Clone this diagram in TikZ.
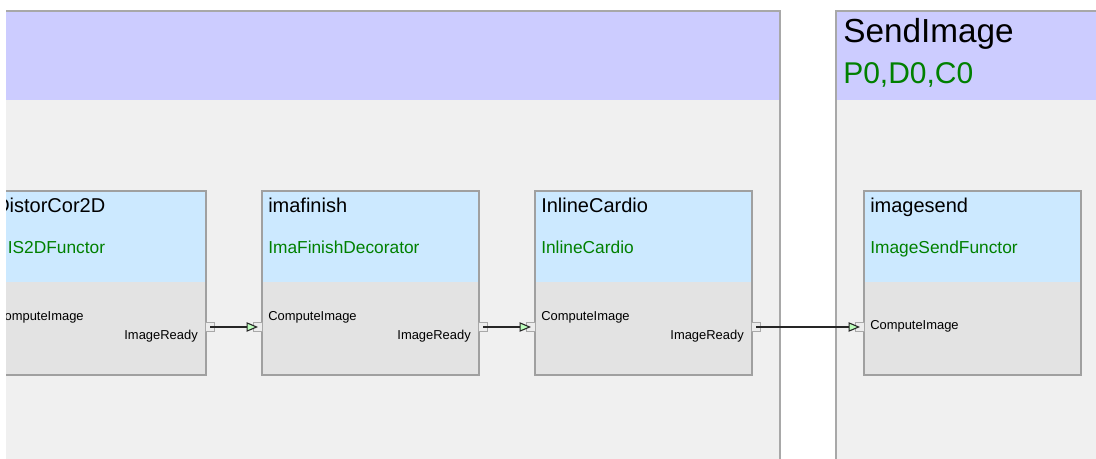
\documentclass[tikz,border=0pt]{standalone}
\usepackage{fontspec}
\setmainfont{Liberation Sans}
\usetikzlibrary{arrows.meta}
\definecolor{grphead}{HTML}{CCCCFF}
\definecolor{grpbody}{HTML}{F0F0F0}
\definecolor{grpline}{HTML}{A8A8A8}
\definecolor{boxhead}{HTML}{CCE9FF}
\definecolor{boxbody}{HTML}{E3E3E3}
\definecolor{boxline}{HTML}{A0A0A0}
\definecolor{txtgreen}{HTML}{008000}
\definecolor{arrowfill}{HTML}{BDFFBD}
\definecolor{portline}{HTML}{A8A8A8}
\definecolor{portfill}{HTML}{ECECEC}
\tikzset{
  grpframe/.style={draw=grpline, line width=1.2pt},
  boxframe/.style={draw=boxline, line width=0.8pt},
  titletext/.style={inner sep=0pt, anchor=base west, font=\fontsize{15}{18}\selectfont},
  subtext/.style={inner sep=0pt, anchor=base west, text=txtgreen, font=\fontsize{13}{15}\selectfont},
  porttext/.style={inner sep=0pt, font=\fontsize{9.7}{11}\selectfont},
  grptitle/.style={inner sep=0pt, anchor=base west, font=\fontsize{25}{29}\selectfont},
  grpsub/.style={inner sep=0pt, anchor=base west, text=txtgreen, font=\fontsize{22.5}{27}\selectfont},
  port/.style={rectangle, draw=portline, fill=portfill, line width=0.6pt, minimum size=6.5pt, inner sep=0pt},
  conn/.style={draw=black!85, line width=0.8pt, -{Triangle[length=8.5pt,width=7pt,fill=arrowfill]}},
}
\newcommand\compbox[5]{%
  \fill[boxhead] (#2,191) rectangle ++(217,91);
  \fill[boxbody] (#2,282) rectangle ++(217,93);
  \draw[boxframe] (#2,191) rectangle ++(217,184);
  \node[titletext] (#1-title) at (#2+6,213) {#3};
  \node[subtext] (#1-sub) at (#5,254) {#4};
}
\begin{document}
\begin{tikzpicture}[x=0.75pt,y=-0.75pt]
\useasboundingbox (0,0) rectangle (1096,459);
\fill[white] (0,0) rectangle (1096,459);
\begin{scope}
\clip (6,0) rectangle (1096,459);
% left group
\fill[grphead] (6,11) rectangle (780,100);
\fill[grpbody] (6,100) rectangle (780,470);
\draw[grpframe] (6,11) -- (780,11) -- (780,470);
% right group
\fill[grphead] (836,11) rectangle (1110,100);
\fill[grpbody] (836,100) rectangle (1110,470);
\draw[grpframe] (836,470) -- (836,11) -- (1110,11);
\node[grptitle] (sendimage) at (843,43) {SendImage};
\node[grpsub] (sendimage-pdc) at (843,84) {P0,D0,C0};
% components
\compbox{dc}{-11}{DistorCor2D}{IS2DFunctor}{7.5}
\compbox{ima}{262}{imafinish}{ImaFinishDecorator}{268}
\compbox{ic}{535}{InlineCardio}{InlineCardio}{541}
\compbox{is}{864}{imagesend}{ImageSendFunctor}{870}
% port labels
\node[porttext, anchor=base west] (dc-inl) at (-5,321) {ComputeImage};
\node[porttext, anchor=base east] (dc-outl) at (198,340) {ImageReady};
\node[porttext, anchor=base west] (ima-inl) at (268,321) {ComputeImage};
\node[porttext, anchor=base east] (ima-outl) at (471,340) {ImageReady};
\node[porttext, anchor=base west] (ic-inl) at (541,321) {ComputeImage};
\node[porttext, anchor=base east] (ic-outl) at (744,340) {ImageReady};
\node[porttext, anchor=base west] (is-inl) at (870,330) {ComputeImage};
% ports
\node[port] (dc-out) at (210,327) {};
\node[port] (ima-in) at (258,327) {};
\node[port] (ima-out) at (483,327) {};
\node[port] (ic-in) at (531,327) {};
\node[port] (ic-out) at (756,327) {};
\node[port] (is-in) at (860,327) {};
% connectors
\draw[conn] (dc-out.center) -- (ima-in.center);
\draw[conn] (ima-out.center) -- (ic-in.center);
\draw[conn] (ic-out.center) -- (is-in.center);
\end{scope}
\end{tikzpicture}
\end{document}
